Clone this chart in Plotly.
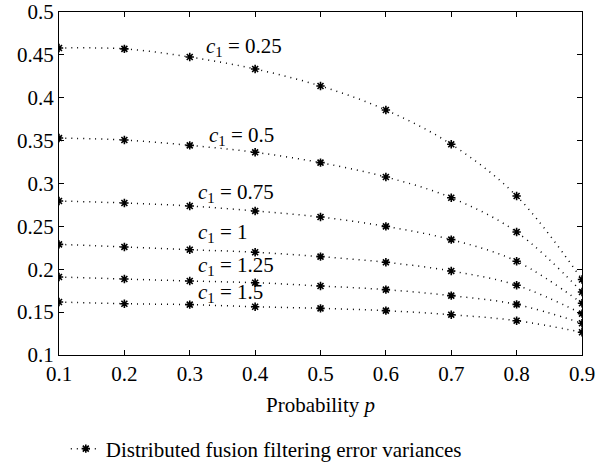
import plotly.graph_objects as go

p = [0.1, 0.2, 0.3, 0.4, 0.5, 0.6, 0.7, 0.8, 0.9]
c1_labels = ["0.25", "0.5", "0.75", "1", "1.25", "1.5"]
c025 = [0.458, 0.457, 0.4475, 0.4335, 0.4137, 0.3857, 0.3457, 0.2854, 0.188]
c050 = [0.353, 0.3507, 0.3445, 0.3364, 0.3243, 0.3076, 0.2834, 0.2434, 0.1735]
c075 = [0.2796, 0.2773, 0.2738, 0.268, 0.2609, 0.250, 0.2345, 0.2093, 0.1603]
c100 = [0.229, 0.226, 0.2228, 0.2198, 0.2147, 0.2081, 0.198, 0.1813, 0.1482]
c125 = [0.191, 0.1886, 0.1863, 0.1843, 0.1805, 0.1762, 0.1692, 0.159, 0.137]
c150 = [0.1618, 0.1598, 0.1587, 0.1563, 0.1544, 0.1517, 0.147, 0.140, 0.1265]
series = [c025, c050, c075, c100, c125, c150]
label_pos = [(0.322, 0.459), (0.326, 0.355), (0.31, 0.289), (0.31, 0.2423), (0.31, 0.204), (0.31, 0.172)]

FONT = "Liberation Serif"
FS = 21
fig = go.Figure()
for i, s in enumerate(series):
    fig.add_trace(go.Scatter(
        x=p, y=s, mode="lines+markers",
        name="Distributed fusion filtering error variances",
        legendgroup="g", showlegend=(i == 0),
        line=dict(color="black", width=1.5, dash="1px,5px", shape="spline"),
        marker=dict(symbol="asterisk-open", size=7, color="black",
                    line=dict(color="black", width=1.6)),
    ))

for lab, (lx, ly) in zip(c1_labels, label_pos):
    fig.add_annotation(x=lx, y=ly, xanchor="left", yanchor="middle",
                       text="<i>c</i><sub>1</sub> = " + lab, showarrow=False,
                       font=dict(family=FONT, size=FS, color="black"))

axis_common = dict(showline=True, linecolor="black", linewidth=1, mirror="ticks",
                   ticks="inside", ticklen=5, tickcolor="black", showgrid=False,
                   zeroline=False, tickfont=dict(family=FONT, size=FS, color="black"))
fig.update_xaxes(range=[0.1, 0.9], tickvals=p, ticktext=[str(v) for v in p],
                 title=dict(text="Probability <i>p</i>", font=dict(family=FONT, size=FS, color="black"), standoff=12),
                 **axis_common)
fig.update_yaxes(range=[0.1, 0.5], tickvals=[0.1, 0.15, 0.2, 0.25, 0.3, 0.35, 0.4, 0.45, 0.5],
                 ticktext=["0.1", "0.15", "0.2", "0.25", "0.3", "0.35", "0.4", "0.45", "0.5"],
                 **axis_common)
fig.update_layout(
    width=603, height=467, plot_bgcolor="white", paper_bgcolor="white",
    margin=dict(l=59, r=21, t=12, b=112, autoexpand=False),
    font=dict(family=FONT, size=FS, color="black"),
    legend=dict(orientation="h", x=0.013, xanchor="left", y=-0.274, yanchor="middle",
                font=dict(family=FONT, size=FS, color="black"), bgcolor="rgba(0,0,0,0)"),
)
fig.write_html("out.html", config={"displayModeBar": False},
               post_script="document.body.style.margin='0';document.body.style.overflow='hidden';")
